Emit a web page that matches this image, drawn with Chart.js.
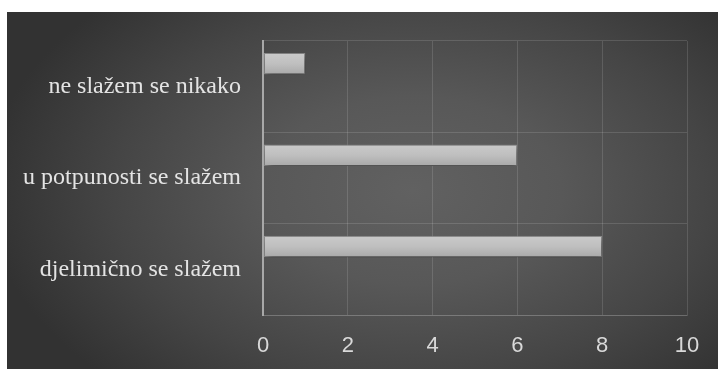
<!DOCTYPE html>
<html>
<head>
<meta charset="utf-8">
<script src="https://cdn.jsdelivr.net/npm/chart.js@4/dist/chart.umd.min.js"></script>
<style>
    html, body { margin: 0; padding: 0; background: #ffffff; }
    #wrap {
        position: absolute;
        left: 7px; top: 12px;
        width: 711px; height: 357px;
        background: radial-gradient(ellipse 60% 75% at 57% 50%, #616161 0%, #585858 35%, #454545 70%, #323232 100%);
    }
</style>
</head>
<body>
<div id="wrap"><canvas id="odgovori"></canvas></div>
<script>
// kategorije odozgo prema dolje
const labels = ['ne slažem se nikako', 'u potpunosti se slažem', 'djelimično se slažem'];
const values = [1, 6, 8];
const xTicks = [0, 2, 4, 6, 8, 10];

const gridColor = 'rgba(255,255,255,0.13)';
const axisColor = '#a8a8a8';

// gradijent za svaku traku, od svijetlog vrha do tamnijeg dna
function barFill(ctx) {
    const chart = ctx.chart;
    const y = chart.scales.y;
    if (!y || ctx.dataIndex === undefined) return '#b8b8b8';
    const cat = y.height / labels.length;
    const mid = y.getPixelForValue(ctx.dataIndex) - cat / 4;
    if (!isFinite(mid) || !isFinite(cat)) return '#b8b8b8';
    const g = chart.ctx.createLinearGradient(0, mid - 11, 0, mid + 11);
    g.addColorStop(0, '#cacaca');
    g.addColorStop(0.5, '#bfbfbf');
    g.addColorStop(1, '#a8a8a8');
    return g;
}

// sjena ispod traka
const barShadow = {
    id: 'barShadow',
    beforeDatasetDraw(chart) {
        const c = chart.ctx;
        c.save();
        c.shadowColor = 'rgba(0,0,0,0.55)';
        c.shadowBlur = 7;
        c.shadowOffsetX = 2;
        c.shadowOffsetY = 3;
    },
    afterDatasetDraw(chart) {
        chart.ctx.restore();
    }
};

const chart = new Chart(document.getElementById('odgovori'), {
    type: 'bar',
    data: {
        labels: labels,
        datasets: [
            {
                label: 'Odgovori',
                data: values,
                backgroundColor: barFill,
                borderColor: '#8e8e8e',
                borderWidth: 1,
                borderSkipped: false
            },
            // prazna druga serija kao u izvornom grafikonu (pomiče trake prema gore)
            { label: '', data: [] }
        ]
    },
    options: {
        indexAxis: 'y',
        responsive: true,
        maintainAspectRatio: false,
        animation: false,
        layout: { padding: { left: 0, top: 29, right: 31, bottom: 0 } },
        datasets: { bar: { categoryPercentage: 1.0, barPercentage: 0.47 } },
        plugins: {
            legend: { display: false },
            tooltip: { enabled: false }
        },
        scales: {
            x: {
                min: 0,
                max: 10,
                afterBuildTicks: axis => { axis.ticks = xTicks.map(v => ({ value: v })); },
                afterFit: axis => {
                    axis.height = 54;
                    axis.paddingLeft = 0;
                    axis.paddingRight = 0;
                },
                grid: {
                    drawTicks: false,
                    color: ctx => ctx.tick && ctx.tick.value === 0 ? axisColor : gridColor,
                    lineWidth: ctx => ctx.tick && ctx.tick.value === 0 ? 2 : 1
                },
                border: { color: gridColor, width: 1 },
                ticks: {
                    padding: 18,
                    color: '#d9d9d9',
                    font: { family: 'Liberation Sans', size: 22 }
                }
            },
            y: {
                afterFit: axis => {
                    axis.width = 256;
                    axis.paddingTop = 0;
                    axis.paddingBottom = 0;
                },
                grid: { drawTicks: false, color: gridColor, lineWidth: 1 },
                border: { color: axisColor, width: 2 },
                ticks: {
                    padding: 22,
                    color: '#e4e4e4',
                    font: { family: 'Liberation Serif', size: 24 }
                }
            }
        }
    },
    plugins: [barShadow]
});
chart.update();
</script>
</body>
</html>
